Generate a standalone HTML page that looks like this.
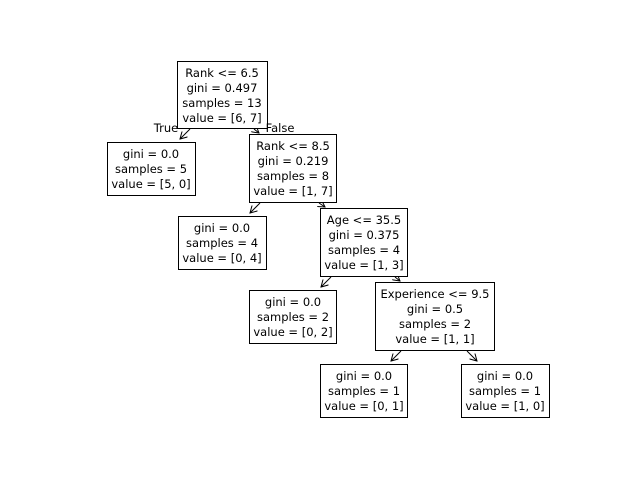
<!DOCTYPE html>
<html><head><style>body{margin:0;background:#fff}</style></head><body>
<svg width="640" height="480" xmlns="http://www.w3.org/2000/svg" font-family="DejaVu Sans, Liberation Sans, sans-serif" font-size="11.5">
<defs><marker id="a" markerWidth="8" markerHeight="8" refX="7" refY="4" orient="auto" markerUnits="userSpaceOnUse"><path d="M0,0 L7,4 L0,8" fill="none" stroke="#000" stroke-width="1"/></marker></defs>
<g stroke="#000" stroke-width="1" fill="none" marker-end="url(#a)">
<line x1="190" y1="129" x2="180" y2="139"/>
<line x1="254" y1="129" x2="259" y2="133"/>
<line x1="260" y1="203" x2="250" y2="213"/>
<line x1="319" y1="203" x2="325" y2="207"/>
<line x1="331" y1="277" x2="321" y2="287"/>
<line x1="395" y1="277" x2="400" y2="281"/>
<line x1="401" y1="351" x2="391" y2="361"/>
<line x1="467" y1="351" x2="477" y2="361"/>
</g>
<g fill="#fff" stroke="#000" stroke-width="1">
<rect x="177.5" y="61.5" width="90" height="67"/>
<rect x="107.5" y="142.5" width="88" height="53"/>
<rect x="249.5" y="134.5" width="87" height="68"/>
<rect x="178.5" y="216.5" width="88" height="53"/>
<rect x="320.5" y="208.5" width="87" height="68"/>
<rect x="249.5" y="290.5" width="87" height="53"/>
<rect x="375.5" y="282.5" width="119" height="68"/>
<rect x="320.5" y="364.5" width="87" height="53"/>
<rect x="461.5" y="364.5" width="88" height="53"/>
</g>
<g text-anchor="middle" fill="#000">
<text x="222" y="77">Rank &lt;= 6.5</text><text x="222" y="92">gini = 0.497</text><text x="222" y="107">samples = 13</text><text x="222" y="122">value = [6, 7]</text>
<text x="151" y="158">gini = 0.0</text><text x="151" y="173">samples = 5</text><text x="151" y="188">value = [5, 0]</text>
<text x="293" y="150">Rank &lt;= 8.5</text><text x="293" y="165">gini = 0.219</text><text x="293" y="180">samples = 8</text><text x="293" y="195">value = [1, 7]</text>
<text x="222" y="232">gini = 0.0</text><text x="222" y="247">samples = 4</text><text x="222" y="262">value = [0, 4]</text>
<text x="364" y="224">Age &lt;= 35.5</text><text x="364" y="239">gini = 0.375</text><text x="364" y="254">samples = 4</text><text x="364" y="269">value = [1, 3]</text>
<text x="293" y="306">gini = 0.0</text><text x="293" y="321">samples = 2</text><text x="293" y="336">value = [0, 2]</text>
<text x="435" y="298">Experience &lt;= 9.5</text><text x="435" y="313">gini = 0.5</text><text x="435" y="328">samples = 2</text><text x="435" y="343">value = [1, 1]</text>
<text x="364" y="380">gini = 0.0</text><text x="364" y="395">samples = 1</text><text x="364" y="410">value = [0, 1]</text>
<text x="505" y="380">gini = 0.0</text><text x="505" y="395">samples = 1</text><text x="505" y="410">value = [1, 0]</text>
<text x="166" y="132">True</text>
<text x="280" y="132">False</text>
</g>
</svg>
</body></html>
